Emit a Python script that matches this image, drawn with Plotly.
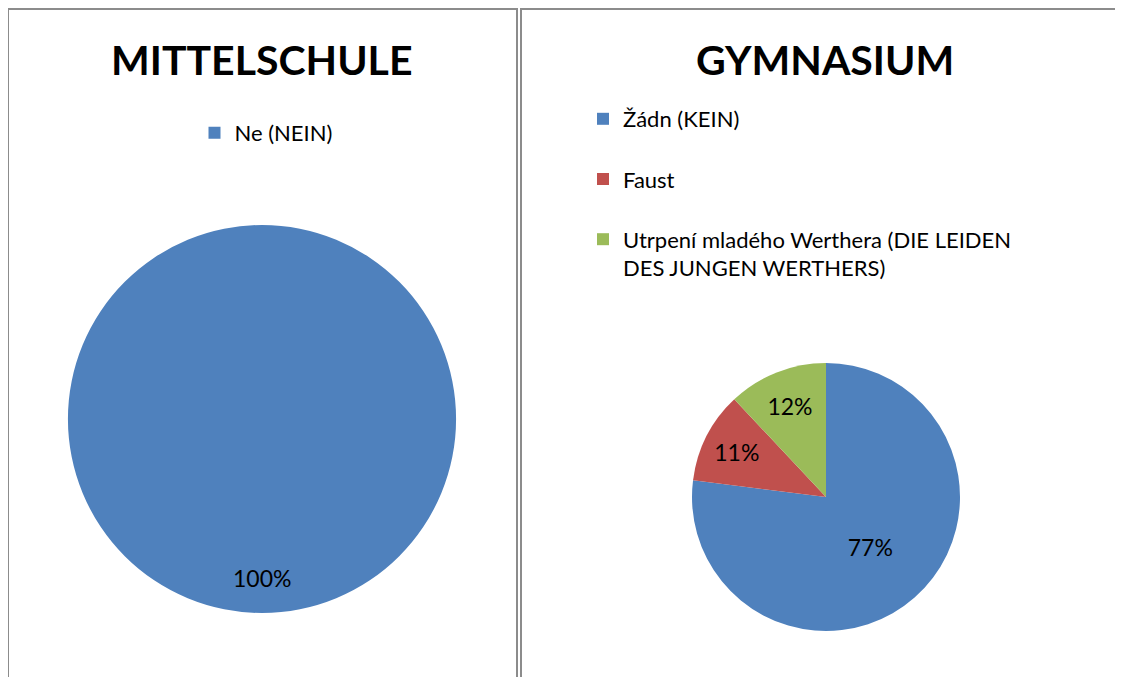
import plotly.graph_objects as go

# ---- data ----
left_title = "MITTELSCHULE"
left_labels = ["Ne (NEIN)"]
left_values = [100]

right_title = "GYMNASIUM"
right_labels = ["Žádn (KEIN)", "Faust", "Utrpení mladého Werthera (DIE LEIDEN<br>DES JUNGEN WERTHERS)"]
right_values = [77, 11, 12]

colors_left = ["#4F81BD"]
colors_right = ["#4F81BD", "#C0504D", "#9BBB59"]

# page has an 8px body margin; size the figure so it fits the 1123x677 window
OFF = 8
W, H = 1123 - OFF, 677 - OFF
FONT = "Lato"


def px_x(x):
    return (x - OFF) / W


def px_y(y):
    return 1 - (y - OFF) / H


# legend labels with padding lines for spacing
right_legend_labels = [lab if "<br>" in lab else lab + "<br> " for lab in right_labels]

fig = go.Figure()

fig.add_trace(go.Pie(
    labels=left_labels, values=left_values, sort=False, direction="clockwise",
    marker=dict(colors=colors_left, line=dict(width=0)),
    textinfo="none",
    domain=dict(x=[px_x(262 - 194), px_x(262 + 194)], y=[px_y(419 + 194), px_y(419 - 194)]),
    legend="legend", showlegend=True,
))

fig.add_trace(go.Pie(
    labels=right_legend_labels, values=right_values, sort=False, direction="clockwise",
    rotation=0,
    marker=dict(colors=colors_right, line=dict(width=0)),
    textinfo="percent", texttemplate="%{percent:.0%}",
    textposition="inside", insidetextorientation="horizontal",
    insidetextfont=dict(family=FONT, size=23, color="black"),
    domain=dict(x=[px_x(826 - 134), px_x(826 + 134)], y=[px_y(497 + 134), px_y(497 - 134)]),
    legend="legend2", showlegend=True,
))

total_left = sum(left_values)
annotations = [
    dict(text=f"<b>{left_title}</b>", x=px_x(262), y=px_y(60), xref="paper", yref="paper",
         showarrow=False, font=dict(family=FONT, size=41, color="black"), xanchor="center", yanchor="middle"),
    dict(text=f"<b>{right_title}</b>", x=px_x(825), y=px_y(60), xref="paper", yref="paper",
         showarrow=False, font=dict(family=FONT, size=41, color="black"), xanchor="center", yanchor="middle"),
    dict(text=f"{round(left_values[0] / total_left * 100)}%", x=px_x(262), y=px_y(578), xref="paper", yref="paper",
         showarrow=False, font=dict(family=FONT, size=23, color="black"), xanchor="center", yanchor="middle"),
]

shapes = [
    dict(type="rect", xref="paper", yref="paper", x0=px_x(8), x1=px_x(517), y0=-0.05, y1=px_y(9),
         line=dict(color="#8C8C8C", width=2)),
    dict(type="rect", xref="paper", yref="paper", x0=px_x(521), x1=1.05, y0=-0.05, y1=px_y(9),
         line=dict(color="#8C8C8C", width=2)),
]

fig.update_layout(
    width=W, height=H,
    margin=dict(l=0, r=0, t=0, b=0),
    paper_bgcolor="white", plot_bgcolor="white",
    font=dict(family=FONT, size=22, color="black"),
    annotations=annotations, shapes=shapes,
    legend=dict(x=px_x(266), y=px_y(112), xanchor="center", yanchor="top",
                font=dict(family=FONT, size=22, color="black"), bgcolor="rgba(0,0,0,0)"),
    legend2=dict(x=px_x(583), y=px_y(98), xanchor="left", yanchor="top", valign="top",
                 font=dict(family=FONT, size=22, color="black"), bgcolor="rgba(0,0,0,0)"),
)

fig.write_html("out.html")
